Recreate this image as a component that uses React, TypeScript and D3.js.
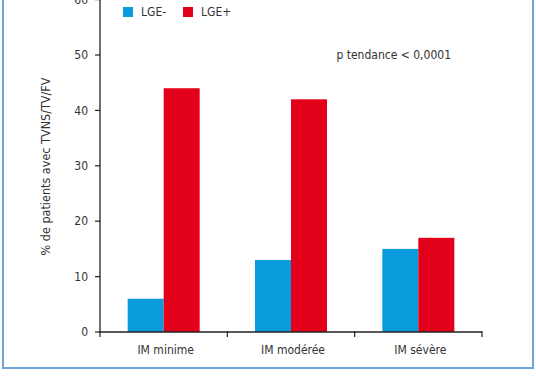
import React from "react";
import * as d3 from "d3";

const categories = ["IM minime", "IM modérée", "IM sévère"];
const seriesNames = ["LGE-", "LGE+"];
const lgeNeg = [6, 13, 15];
const lgePos = [44, 42, 17];
const yTicks = [0, 10, 20, 30, 40, 50, 60];
const colors = ["#0a9bdc", "#e2001a"];

const W = 536, H = 386;
const font = "'DejaVu Sans Condensed', 'Roboto', sans-serif";

export default function App() {
  const x0 = 100, x1 = 482;
  const y = d3.scaleLinear().domain([0, 60]).range([332, -0.4]);
  const xb = d3.scaleBand().domain(categories).range([x0, x1]).padding(0);
  const inner = d3.scaleBand().domain(seriesNames).range([0, 72]);
  const series = [lgeNeg, lgePos];
  const textColor = "#333";
  return (
    <svg width={W} height={H} style={{ position: "absolute", left: 0, top: 0 }} fontFamily={font}>
      <rect x={0} y={0} width={W} height={H} fill="#fff" />
      <rect x={3} y={-5} width={530} height={373} fill="none" stroke="#6fa2d6" strokeWidth={2} />
      {/* bars */}
      {categories.map((c, i) => {
        const cx = (xb(c) as number) + xb.bandwidth() / 2 - 36;
        return series.map((s, k) => (
          <rect key={c + k} x={cx + (inner(seriesNames[k]) as number)} y={y(s[i])}
            width={inner.bandwidth()} height={y(0) - y(s[i])} fill={colors[k]} />
        ));
      })}
      {/* y axis */}
      <line x1={x0} x2={x0} y1={y(60)} y2={y(0)} stroke="#222" strokeWidth={1.3} />
      {yTicks.map(t => (
        <g key={t}>
          <line x1={x0 - 5} x2={x0} y1={y(t)} y2={y(t)} stroke="#222" strokeWidth={1.2} />
          <text x={x0 - 12} y={y(t)} dy="0.35em" textAnchor="end" fontSize={12} fill={textColor}>{t}</text>
        </g>
      ))}
      {/* x axis */}
      <line x1={x0} x2={x1} y1={y(0)} y2={y(0)} stroke="#222" strokeWidth={1.3} />
      {[...categories.map(c => xb(c) as number), x1].map((v, i) => (
        <line key={i} x1={v} x2={v} y1={y(0) - 1} y2={y(0) + 5} stroke="#222" strokeWidth={1.2} />
      ))}
      {categories.map(c => (
        <text key={c} x={(xb(c) as number) + xb.bandwidth() / 2 + 2} y={354} textAnchor="middle" fontSize={12} fill={textColor}>{c}</text>
      ))}
      {/* y label */}
      <text transform={`translate(50,166.5) rotate(-90)`} textAnchor="middle" fontSize={12.5} fill={textColor}>% de patients avec TVNS/TV/FV</text>
      {/* legend */}
      {seriesNames.map((n, k) => (
        <g key={n} transform={`translate(123,7) translate(${k * 60},0)`}>
          <rect x={0} y={0} width={10} height={10} fill={colors[k]} />
          <text x={18} y={5} dy="0.35em" fontSize={12} fill={textColor}>{n}</text>
        </g>
      ))}
      <text x={451} y={55} dy="0.35em" textAnchor="end" fontSize={12} fill={textColor}>p tendance &lt; 0,0001</text>
    </svg>
  );
}
